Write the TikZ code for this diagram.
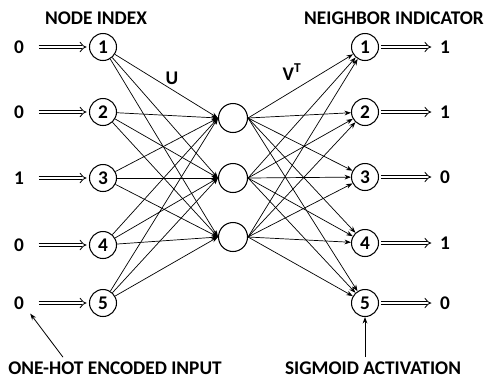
\documentclass[tikz,border=0pt]{standalone}
\usepackage{fontspec}
\setmainfont{Carlito}
\usetikzlibrary{positioning,arrows.meta}

\begin{document}
\begin{tikzpicture}[x=0.03cm,y=-0.03cm,>={Stealth[length=5.5pt,width=4pt]},
  font=\fontsize{16.5}{18}\selectfont\bfseries,
  unit/.style={draw,circle,line width=0.9pt,minimum size=0.81cm,inner sep=0pt},
  hidden/.style={unit,minimum size=0.87cm},
  invalue/.style={minimum width=1.02cm,inner sep=0pt},
  outvalue/.style={minimum width=0.66cm,inner sep=0pt},
  edge/.style={->,line width=0.6pt},
  flow/.style={draw,line width=0.7pt,double,double distance=2.4pt,-{Implies},shorten <=2pt,shorten >=2pt},
  note/.style={->,line width=0.7pt}]
\useasboundingbox (0,0) rectangle (486,378);
% input layer
\node[unit] (i1) at (103,47) {1};
\node[unit] (i2) at (103,112) {2};
\node[unit] (i3) at (103,178) {3};
\node[unit] (i4) at (103,245) {4};
\node[unit] (i5) at (103,303) {5};
% hidden layer
\node[hidden] (h1) at (233,118) {};
\node[hidden] (h2) at (233,178) {};
\node[hidden] (h3) at (233,237) {};
% output layer
\node[unit] (o1) at (365,47) {1};
\node[unit] (o2) at (365,112) {2};
\node[unit] (o3) at (365,177) {3};
\node[unit] (o4) at (365,243) {4};
\node[unit] (o5) at (365,303) {5};
% values
\node[invalue] (x1) at (19,47) {0};
\node[invalue] (x2) at (19,112) {0};
\node[invalue] (x3) at (19,178) {1};
\node[invalue] (x4) at (19,245) {0};
\node[invalue] (x5) at (19,303) {0};
\node[outvalue] (y1) at (445,47) {1};
\node[outvalue] (y2) at (445,112) {1};
\node[outvalue] (y3) at (445,177) {0};
\node[outvalue] (y4) at (445,243) {1};
\node[outvalue] (y5) at (445,303) {0};
% titles
\node (tin) at (96,18) {NODE INDEX};
\node (tout) at (394,18) {NEIGHBOR INDICATOR};
\node (u) at (172,78) {U};
\node (v) at (292,72) {V\textsuperscript{T}};
\node[anchor=base] (onehot) at (115,374) {ONE-HOT ENCODED INPUT};
\node[anchor=base] (sigmoid) at (373,374) {SIGMOID ACTIVATION};
% connections
\foreach \i in {1,...,5}{
  \draw[flow] (x\i) -- (i\i);
  \draw[flow] (o\i) -- (y\i);
  \foreach \h in {1,2,3}{
    \draw[edge] (i\i) -- (h\h.west);
    \draw[edge] (h\h.east) -- (o\i);
  }
}
\draw[note] ([xshift=-52*0.03cm]onehot.north) -- ([xshift=-6*0.03cm,yshift=-4*0.03cm]x5.south east);
\draw[note] ([xshift=-8*0.03cm]sigmoid.north) -- (o5);
\end{tikzpicture}
\end{document}
